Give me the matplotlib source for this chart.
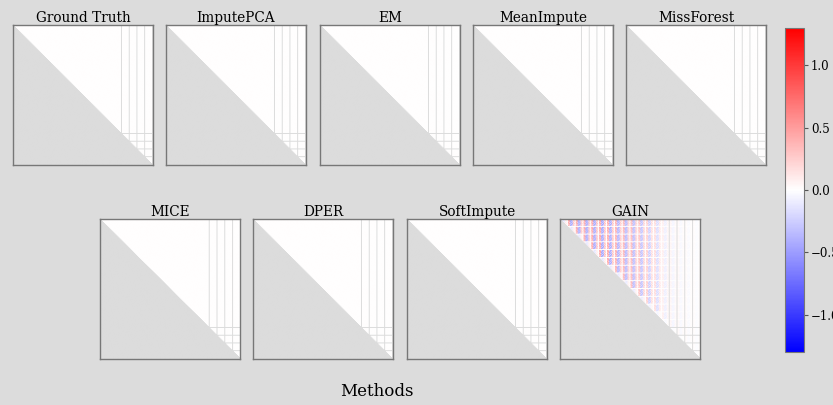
import numpy as np
import matplotlib
matplotlib.use("Agg")
import matplotlib.pyplot as plt
import matplotlib.colors as colors
import matplotlib.cm as cm

plt.rcParams['font.family'] = 'DejaVu Serif'

# panel names, top row then bottom row
top_methods = ['Ground Truth', 'ImputePCA', 'EM', 'MeanImpute', 'MissForest']
bottom_methods = ['MICE', 'DPER', 'SoftImpute', 'GAIN']

# block structure of the matrix
n_blocks = 18
block_size = 8                       # 7 feature cells + 1 separator cell
nan_sep_blocks = [13, 14, 15, 16, 17]  # separators that are missing (gray lines)

# GAIN texture inside one block (read by eye, pale red / blue stripes)
gain_tile = [
    [0.45, 0.35, -0.20, -0.45, -0.40, 0.25, 0.15],
    [0.40, 0.45, -0.35, -0.40, -0.20, 0.30, 0.20],
    [0.30, 0.40, -0.45, -0.30, -0.35, 0.15, 0.25],
    [0.45, 0.25, -0.30, -0.45, -0.25, 0.35, 0.10],
    [0.35, 0.45, -0.40, -0.20, -0.45, 0.20, 0.30],
    [0.25, 0.35, -0.25, -0.45, -0.30, 0.25, 0.15],
    [0.40, 0.30, -0.45, -0.35, -0.20, 0.30, 0.20],
]
# how strong the GAIN texture is per column block
gain_col_strength = [1.0, 1.0, 1.0, 1.0, 1.0, 1.0, 0.95, 0.9, 0.85, 0.8, 0.7,
                     0.55, 0.4, 0.2, 0.12, 0.08, 0.05, 0.04]

vmin, vmax = -1.3, 1.3
bg = '#dcdcdc'

cmap = plt.get_cmap('bwr').copy()
cmap.set_bad(bg)


def build_matrix(tile=None, strength=None):
    n = n_blocks * block_size
    m = np.zeros((n, n))
    if tile is not None:
        t = np.array(tile)
        for bi in range(n_blocks):
            for bj in range(n_blocks):
                s = strength[bj]
                if bi == bj:
                    s = s * 0.3
                r0, c0 = bi * block_size, bj * block_size
                m[r0:r0 + 7, c0:c0 + 7] = t * s
    for b in nan_sep_blocks:
        k = b * block_size + block_size - 1
        m[k, :] = np.nan
        m[:, k] = np.nan
    m[np.tril_indices(n)] = np.nan
    return m


fig = plt.figure(figsize=(8.33, 4.05), dpi=100)
fig.patch.set_facecolor(bg)
W, H = 833, 405


def add_panel(left, top, title, mat):
    ax = fig.add_axes([left / W, 1 - (top + 140) / H, 140 / W, 140 / H])
    ax.set_facecolor(bg)
    ax.imshow(mat, cmap=cmap, vmin=vmin, vmax=vmax, aspect='auto',
              interpolation='antialiased', interpolation_stage='rgba')
    ax.set_xticks([])
    ax.set_yticks([])
    for sp in ax.spines.values():
        sp.set_color('#777777')
        sp.set_linewidth(1.0)
    ax.set_title(title, fontsize=9.8, pad=2)


top_lefts = [13, 166, 320, 473, 626]
bottom_lefts = [100, 253, 407, 560]

for left, name in zip(top_lefts, top_methods):
    add_panel(left, 25, name, build_matrix())
for left, name in zip(bottom_lefts, bottom_methods):
    if name == 'GAIN':
        add_panel(left, 219, name, build_matrix(gain_tile, gain_col_strength))
    else:
        add_panel(left, 219, name, build_matrix())

cax = fig.add_axes([785 / W, 1 - 352 / H, 19 / W, 324 / H])
sm = cm.ScalarMappable(norm=colors.Normalize(vmin, vmax), cmap='bwr')
cb = fig.colorbar(sm, cax=cax, ticks=[-1.0, -0.5, 0.0, 0.5, 1.0])
cb.outline.set_edgecolor('#777777')
cb.ax.tick_params(labelsize=8.5, length=3, width=0.8, pad=2, color='#555555')

fig.text(377 / W, 1 - 392 / H, 'Methods', fontsize=12, ha='center', va='center')

plt.savefig('out.png', dpi=100, facecolor=bg)
